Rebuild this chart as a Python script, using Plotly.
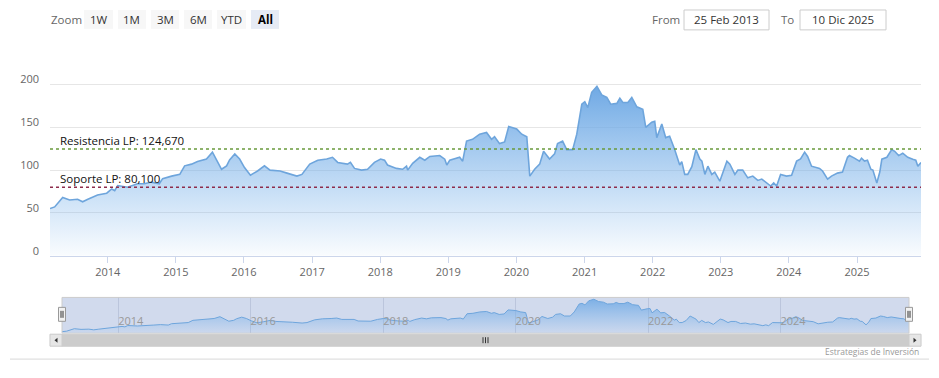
import plotly.graph_objects as go

# page offset: the browser body has an 8px margin, so the figure is sized to fit
OFF = 8
W, H = 939 - OFF, 378 - OFF

# ---------------- data ----------------
dates = [
    "2013-02-25", "2013-03-22", "2013-05-04", "2013-06-10", "2013-07-23", "2013-08-19", "2013-09-16",
    "2013-11-07", "2013-12-26", "2014-01-22", "2014-02-07", "2014-02-23", "2014-04-17", "2014-06-09",
    "2014-07-16", "2014-08-23", "2014-10-04", "2014-10-22", "2014-12-09", "2015-01-22", "2015-02-17",
    "2015-03-26", "2015-04-27", "2015-06-14", "2015-07-16", "2015-08-13", "2015-09-03", "2015-09-30",
    "2015-10-16", "2015-11-13", "2015-12-09", "2016-01-04", "2016-02-05", "2016-03-14", "2016-04-20",
    "2016-05-20", "2016-07-13", "2016-08-19", "2016-10-11", "2016-11-07", "2016-12-19", "2017-01-31",
    "2017-03-20", "2017-04-20", "2017-05-18", "2017-07-09", "2017-07-25", "2017-08-16", "2017-09-23",
    "2017-10-25", "2017-12-01", "2018-01-03", "2018-01-24", "2018-02-09", "2018-03-29", "2018-05-01",
    "2018-05-22", "2018-05-28", "2018-06-24", "2018-08-01", "2018-08-28", "2018-09-24", "2018-11-16",
    "2018-12-13", "2018-12-24", "2019-01-09", "2019-03-03", "2019-03-19", "2019-04-09", "2019-05-11",
    "2019-06-18", "2019-07-25", "2019-08-21", "2019-09-06", "2019-10-03", "2019-10-30", "2019-11-21",
    "2020-01-03", "2020-01-30", "2020-02-26", "2020-03-13", "2020-04-08", "2020-05-05", "2020-05-26",
    "2020-06-27", "2020-07-24", "2020-08-09", "2020-09-05", "2020-09-27", "2020-10-29", "2020-11-20",
    "2020-12-17", "2021-01-02", "2021-01-18", "2021-02-08", "2021-03-08", "2021-04-03", "2021-04-30",
    "2021-05-21", "2021-06-23", "2021-07-09", "2021-07-25", "2021-08-21", "2021-09-11", "2021-10-08",
    "2021-11-09", "2021-11-25", "2021-12-27", "2022-01-12", "2022-01-23", "2022-02-19", "2022-03-12",
    "2022-04-02", "2022-04-29", "2022-05-26", "2022-06-06", "2022-06-22", "2022-07-08", "2022-07-30",
    "2022-08-21", "2022-09-11", "2022-09-22", "2022-10-08", "2022-10-24", "2022-11-14", "2022-11-30",
    "2022-12-27", "2023-02-03", "2023-02-19", "2023-03-18", "2023-04-03", "2023-04-29", "2023-05-26",
    "2023-06-22", "2023-07-19", "2023-08-09", "2023-09-05", "2023-09-26", "2023-10-12", "2023-10-28",
    "2023-11-18", "2023-12-20", "2024-01-16", "2024-02-12", "2024-03-04", "2024-03-26", "2024-04-11",
    "2024-05-02", "2024-06-14", "2024-06-30", "2024-07-27", "2024-08-17", "2024-09-18", "2024-10-15",
    "2024-11-11", "2024-11-21", "2024-12-18", "2025-01-14", "2025-01-25", "2025-02-10", "2025-02-26",
    "2025-03-16", "2025-03-27", "2025-04-17", "2025-05-03", "2025-05-14", "2025-06-10", "2025-07-06",
    "2025-07-22", "2025-08-12", "2025-09-03", "2025-09-30", "2025-10-27", "2025-11-12", "2025-11-23",
    "2025-12-10",
]
prices = [
    55, 57, 68, 65, 66, 63, 66,
    71, 73, 78, 76, 82, 80, 84,
    84, 86, 84, 90, 93, 95, 105,
    107, 110, 113, 121, 110, 101, 105,
    112, 119, 113, 103, 94, 99, 105,
    100, 99, 96.5, 93, 95, 107, 111.6,
    113, 115, 109, 107, 109, 102, 100,
    101, 109, 113, 111.6, 106, 102, 101,
    104.6, 100, 108, 115, 111.6, 116, 117,
    112.8, 106, 111.6, 115, 110.5, 134, 136,
    142, 144, 136, 139, 131, 133, 151,
    148, 142, 139, 93, 101, 107, 122,
    113, 119, 131, 134, 124, 124, 142,
    177, 180, 173, 191, 198, 188, 185,
    177, 178, 184, 179, 179, 185, 174,
    171, 150, 156, 157, 138, 154, 138,
    139.5, 124, 106, 110, 95, 95, 104,
    124, 113, 110.5, 95, 104.6, 95, 97.7,
    87, 110.5, 107, 95, 100, 100, 91,
    93, 88, 89.5, 85, 81.4, 85, 81.4,
    95, 93, 94, 110.5, 113, 121, 116,
    104.6, 102, 99, 89.5, 93, 96.5, 97.7,
    115, 117, 114, 110.5, 114, 110.5, 111.6,
    101, 100, 85, 97.7, 112.8, 115, 124,
    122, 117, 119.8, 115, 112.8, 111.6, 104.6,
    109,
]

resistance = 124.67
support = 80.1
resistance_label = "Resistencia LP: 124,670"
support_label = "Soporte LP: 80,100"
y_tickvals = [0, 50, 100, 150, 200, 250]
y_ticktext = ["0", "50", "100", "150", "200", ""]
zoom_buttons = ["1W", "1M", "3M", "6M", "YTD", "All"]
active_button = "All"
date_from = "25 Feb 2013"
date_to = "10 Dic 2025"
credits_text = "Estrategias de Inversión"
x_start, x_end = "2013-02-25", "2025-12-10"

FONT = "Open Sans, Noto Sans, Liberation Sans, sans-serif"


def px(x):
    """page pixel x -> paper fraction"""
    return (x - OFF) / W


def py(y):
    """page pixel y -> paper fraction"""
    return 1 - (y - OFF) / H


fig = go.Figure()

# main area series
fig.add_trace(go.Scatter(
    x=dates, y=prices, mode="lines",
    line=dict(color="#6ea5dc", width=1.6),
    fill="tozeroy",
    fillgradient=dict(type="vertical",
                      colorscale=[[0, "rgba(124,181,236,0.04)"], [1, "rgba(110,168,228,1)"]],
                      start=0, stop=200),
    xaxis="x", yaxis="y", hoverinfo="skip", showlegend=False,
))

# navigator series
fig.add_trace(go.Scatter(
    x=dates, y=prices, mode="lines",
    line=dict(color="#6ea5dc", width=1),
    fill="tozeroy",
    fillgradient=dict(type="vertical",
                      colorscale=[[0, "rgba(124,181,236,0.05)"], [1, "rgba(110,168,228,0.9)"]],
                      start=48, stop=206),
    xaxis="x2", yaxis="y2", hoverinfo="skip", showlegend=False,
))

shapes = []
annotations = []

# navigator mask + outline
shapes.append(dict(type="rect", xref="x2 domain", yref="y2 domain", x0=0, x1=1, y0=0, y1=1,
                   fillcolor="rgba(102,133,194,0.3)", line=dict(width=0), layer="below"))
shapes.append(dict(type="rect", xref="x2 domain", yref="y2 domain", x0=0, x1=1, y0=0, y1=1,
                   fillcolor="rgba(0,0,0,0)", line=dict(color="#cccccc", width=1), layer="above"))

# plot lines
shapes.append(dict(type="line", xref="x domain", yref="y", x0=0, x1=1, y0=resistance, y1=resistance,
                   line=dict(color="#6a9a3c", width=1.5, dash="dot"), layer="above"))
shapes.append(dict(type="line", xref="x domain", yref="y", x0=0, x1=1, y0=support, y1=support,
                   line=dict(color="#8e2c4c", width=1.5, dash="dot"), layer="above"))
for lbl, val in ((resistance_label, resistance), (support_label, support)):
    annotations.append(dict(text=lbl, xref="paper", yref="y", x=px(58), y=val, xanchor="left",
                            yanchor="bottom", yshift=-1, showarrow=False,
                            font=dict(family=FONT, size=11.5, color="#111111")))

# navigator handles
for hx in (62, 909):
    shapes.append(dict(type="rect", xref="paper", yref="paper", x0=px(hx - 3.5), x1=px(hx + 3.5),
                       y0=py(323), y1=py(309), fillcolor="#f2f2f2", line=dict(color="#999999", width=1)))
    for dx in (-1, 1):
        shapes.append(dict(type="line", xref="paper", yref="paper", x0=px(hx + dx), x1=px(hx + dx),
                           y0=py(319.5), y1=py(312.5), line=dict(color="#333333", width=1)))

# scrollbar
shapes.append(dict(type="rect", xref="paper", yref="paper", x0=px(50), x1=px(921), y0=py(348), y1=py(336),
                   fillcolor="#f2f2f2", line=dict(color="#f2f2f2", width=1)))
shapes.append(dict(type="rect", xref="paper", yref="paper", x0=px(62), x1=px(909), y0=py(348), y1=py(336),
                   fillcolor="#cccccc", line=dict(color="#cccccc", width=1)))
for bx0, bx1 in ((50, 62), (909, 921)):
    shapes.append(dict(type="rect", xref="paper", yref="paper", x0=px(bx0), x1=px(bx1), y0=py(348), y1=py(336),
                       fillcolor="#e6e6e6", line=dict(color="#cccccc", width=1)))
shapes.append(dict(type="path", xref="paper", yref="paper",
                   path=f"M {px(54.5)} {py(342)} L {px(57.5)} {py(339.5)} L {px(57.5)} {py(344.5)} Z",
                   fillcolor="#333333", line=dict(width=0)))
shapes.append(dict(type="path", xref="paper", yref="paper",
                   path=f"M {px(916.5)} {py(342)} L {px(913.5)} {py(339.5)} L {px(913.5)} {py(344.5)} Z",
                   fillcolor="#333333", line=dict(width=0)))
for gx in (483, 485.5, 488):
    shapes.append(dict(type="line", xref="paper", yref="paper", x0=px(gx), x1=px(gx), y0=py(345), y1=py(339),
                       line=dict(color="#333333", width=1)))

# bottom separator
shapes.append(dict(type="line", xref="paper", yref="paper", x0=px(10), x1=px(929), y0=py(361), y1=py(361),
                   line=dict(color="#d8d8d8", width=1)))

# range selector buttons
btn_x = [(84, 113), (118, 146), (151, 179), (184, 212), (217, 246), (251, 279)]
for lbl, (bx0, bx1) in zip(zoom_buttons, btn_x):
    active = lbl == active_button
    shapes.append(dict(type="rect", xref="paper", yref="paper", x0=px(bx0), x1=px(bx1), y0=py(29), y1=py(10),
                       fillcolor="#e6ebf5" if active else "#f7f7f7", line=dict(width=0)))
    annotations.append(dict(text=f"<b>{lbl}</b>" if active else lbl, xref="paper", yref="paper",
                            x=px((bx0 + bx1) / 2), y=py(19.5), xanchor="center", yanchor="middle",
                            showarrow=False, font=dict(family=FONT, size=11.5, color="#000000" if active else "#333333")))
annotations.append(dict(text="Zoom", xref="paper", yref="paper", x=px(49), y=py(19.5), xanchor="left",
                        yanchor="middle", showarrow=False, font=dict(family=FONT, size=11.5, color="#666666")))

# date inputs
annotations.append(dict(text="From", xref="paper", yref="paper", x=px(650), y=py(19.5), xanchor="left",
                        yanchor="middle", showarrow=False, font=dict(family=FONT, size=11.5, color="#666666")))
annotations.append(dict(text="To", xref="paper", yref="paper", x=px(779), y=py(19.5), xanchor="left",
                        yanchor="middle", showarrow=False, font=dict(family=FONT, size=11.5, color="#666666")))
for (bx0, bx1), txt in (((684, 769), date_from), ((800, 886), date_to)):
    shapes.append(dict(type="rect", xref="paper", yref="paper", x0=px(bx0), x1=px(bx1), y0=py(30), y1=py(10),
                       fillcolor="#ffffff", line=dict(color="#cccccc", width=1)))
    annotations.append(dict(text=txt, xref="paper", yref="paper", x=px((bx0 + bx1) / 2), y=py(19.5),
                            xanchor="center", yanchor="middle", showarrow=False,
                            font=dict(family=FONT, size=11.5, color="#333333")))

# credits
annotations.append(dict(text=credits_text, xref="paper", yref="paper", x=px(921), y=py(353), xanchor="right",
                        yanchor="middle", showarrow=False, font=dict(family=FONT, size=8.5, color="#999999")))

fig.update_layout(
    width=W, height=H,
    margin=dict(l=0, r=0, t=0, b=0),
    paper_bgcolor="#ffffff", plot_bgcolor="rgba(0,0,0,0)",
    font=dict(family=FONT, size=11, color="#666666"),
    showlegend=False,
    xaxis=dict(domain=[px(50), px(921)], anchor="y", type="date", range=[x_start, x_end],
               showgrid=False, zeroline=False, showline=True, linecolor="#ccd6eb", linewidth=1,
               ticks="outside", ticklen=6, tickcolor="#ccd6eb", tickformat="%Y", dtick="M12",
               tick0="2014-01-01", tickfont=dict(family=FONT, size=11, color="#666666"), fixedrange=True),
    yaxis=dict(domain=[py(257), py(42)], anchor="x", range=[0, 250], tickvals=y_tickvals, ticktext=y_ticktext,
               showgrid=True, gridcolor="#e6e6e6", gridwidth=1, zeroline=False, showline=False, ticks="",
               ticklabelstandoff=10, ticklabelshift=-5,
               tickfont=dict(family=FONT, size=11, color="#666666"), fixedrange=True),
    xaxis2=dict(domain=[px(62), px(909)], anchor="y2", type="date", range=[x_start, x_end],
                showgrid=True, gridcolor="rgba(170,180,205,0.55)", gridwidth=1, zeroline=False, showline=False,
                ticks="", tickformat="%Y", dtick="M24", tick0="2014-01-01", ticklabelposition="inside right",
                tickfont=dict(family=FONT, size=11, color="#999999"), fixedrange=True),
    yaxis2=dict(domain=[py(335), py(299)], anchor="x2", range=[48, 206], visible=False, fixedrange=True),
    shapes=shapes,
    annotations=annotations,
)

fig.write_html("out.html", config={"displayModeBar": False})
